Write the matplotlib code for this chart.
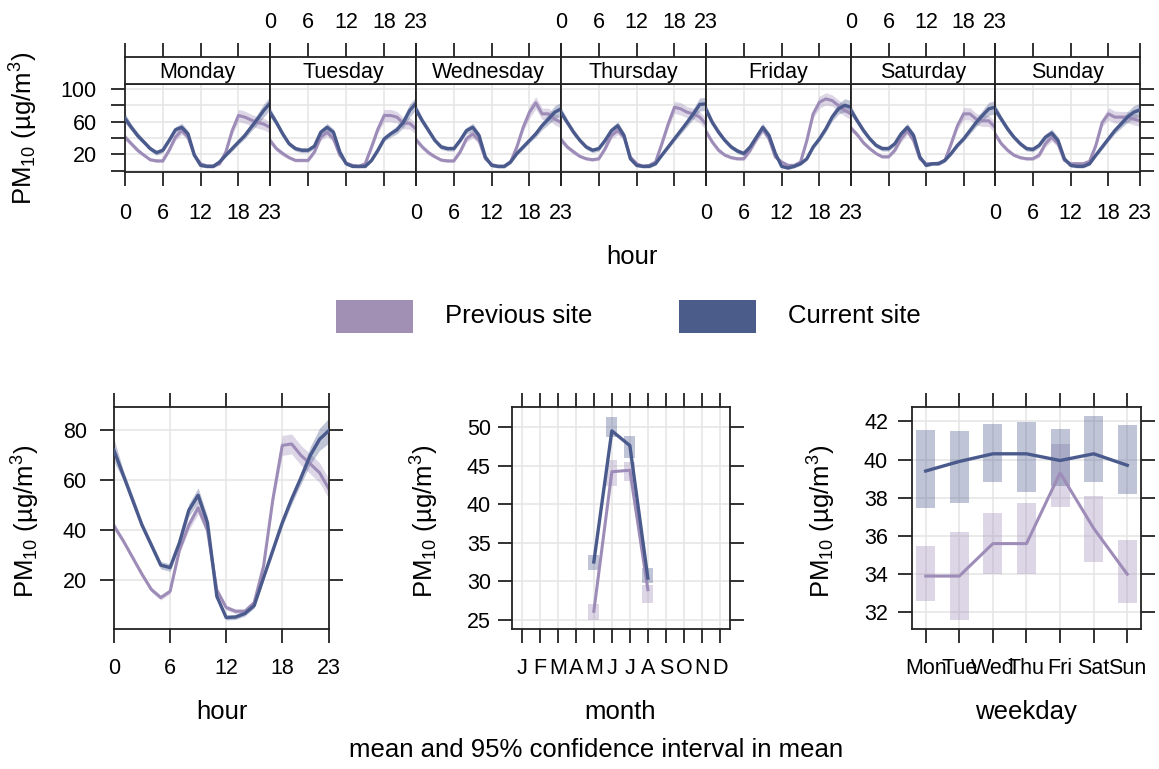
import matplotlib
matplotlib.use('Agg')
import matplotlib.pyplot as plt
import numpy as np

plt.rcParams['font.family'] = ['Liberation Sans', 'DejaVu Sans']
plt.rcParams['mathtext.fontset'] = 'custom'
plt.rcParams['mathtext.rm'] = 'Liberation Sans'
plt.rcParams['mathtext.it'] = 'Liberation Sans:italic'

# ---------------- data ----------------
days = ['Monday', 'Tuesday', 'Wednesday', 'Thursday', 'Friday', 'Saturday', 'Sunday']
hours = list(range(24))
hour_ticks = [0, 6, 12, 18, 23]

cur_dayhour = [
    [64, 53, 43, 35, 27, 22, 25, 37, 50, 53, 45, 19, 6.5, 5.3, 5.3, 10.6, 19, 27, 35, 43, 53, 63, 73.6, 82.5],
    [71.5, 59, 45, 33, 27, 25, 25, 30, 47, 53, 47, 23, 8.5, 5.3, 5.3, 5.3, 12.6, 25, 39, 45, 50, 59, 73.6, 82.5],
    [75, 61, 49, 37, 29, 27, 27, 37, 49, 53, 43, 16.7, 6.5, 5.3, 5.3, 10.6, 21, 29, 37, 45, 55, 63, 71.5, 75.6],
    [71.5, 59, 47, 37, 29, 25, 27, 37, 49, 55, 43, 14.6, 6.5, 5.3, 5.3, 8.5, 19, 29, 39, 49, 59, 69.5, 81, 81.7],
    [75, 59, 47, 37, 29, 24, 21, 29, 41, 53, 43, 21, 5.3, 3.3, 5.3, 8.5, 14.6, 29, 39, 51, 65.5, 75.6, 80, 77.6],
    [73.6, 61, 49, 39, 31, 27, 27, 33, 45, 53, 43, 16.7, 6.5, 8.5, 8.5, 12.6, 21, 31, 39, 49, 59, 67.5, 75.6, 77.6],
    [75.6, 63, 51, 41, 33, 27, 26, 31, 41, 46, 37, 14.6, 6.5, 5.3, 5.3, 8.5, 19, 29, 39, 49, 57, 65.5, 71.5, 74.4],
]
prev_dayhour = [
    [41, 33, 25, 19, 13.4, 12, 12, 25, 41, 49, 41, 19, 8.5, 5.7, 5.7, 8.5, 23, 49, 67.5, 65.5, 62, 59, 57, 53],
    [37, 27, 21, 16, 12.6, 12.6, 12.6, 23, 41, 47, 39, 19, 9.3, 6.5, 5.3, 8.5, 29, 51, 67.5, 67.5, 65.5, 58, 58, 51],
    [38, 29, 22, 17, 13, 12, 12, 23, 39, 45, 37, 14.6, 7.7, 5.3, 5.3, 10.6, 29, 53, 71.5, 83, 69.5, 69.5, 63, 59],
    [38, 29, 23, 17.5, 14.6, 13.4, 14.6, 27, 43, 49, 41, 16.7, 8.5, 5.3, 6.5, 10.6, 33, 57, 77.6, 75.6, 71.5, 69.5, 65.5, 57],
    [48, 35, 25, 19, 16, 14.6, 14.6, 25, 39, 51, 39, 16.7, 10.6, 6.5, 6.5, 10.6, 37, 69.5, 83.7, 87.8, 85.8, 79.7, 73.6, 69.5],
    [52, 44, 34, 27, 21, 17, 17, 25, 39, 49, 37, 14.6, 8.5, 8.5, 9.3, 12.6, 33, 55, 69.5, 69.5, 63, 61, 61, 53],
    [45, 33, 25, 19, 16, 14.6, 14.6, 19, 33, 41, 33, 12.6, 8.5, 8.5, 8.5, 11.4, 31, 59, 69.5, 65.5, 65.5, 65.5, 63, 61],
]
cur_dayhour_ci = [6, 4, 4, 3, 3, 3, 3, 3, 4, 5, 4, 2, 2, 2, 2, 2, 2, 3, 3, 4, 5, 6.5, 8, 8]
prev_dayhour_ci = [4, 3, 3, 2, 2, 2, 2, 3, 4, 5, 4, 2, 2, 2, 2, 2, 4, 5, 7.5, 7.5, 7, 7, 7, 7]

cur_hour = [72, 62, 52, 42, 34, 26, 25, 35, 48, 54, 43, 13.5, 5, 5.2, 6.6, 9.8, 21, 32, 43, 52.5, 61, 70, 76.5, 80]
prev_hour = [41.7, 35.7, 29, 22.3, 16.2, 13, 15.5, 32, 42, 49, 40, 16, 9, 7.5, 7.5, 11, 25.6, 52.5, 74, 74.6, 70, 66.6, 63, 56.5]
cur_hour_ci = [4.5, 2, 2, 1.5, 1.5, 1.5, 1.5, 1.5, 2.5, 3, 2.5, 1, 1, 1, 1, 1, 1, 1.5, 1.5, 2, 2.5, 3.5, 4.5, 5]
prev_hour_ci = [1.5, 1, 1, 1, 1, 1, 1, 1, 2, 2.5, 2, 1, 1, 1, 1, 1, 1.5, 2, 4, 4, 4, 4, 4, 4]

month_labels = ['J', 'F', 'M', 'A', 'M', 'J', 'J', 'A', 'S', 'O', 'N', 'D']
months_obs = [5, 6, 7, 8]
cur_month = [32.5, 49.5, 47.6, 30.4]
cur_month_lo = [31.5, 48.7, 46.0, 29.8]
cur_month_hi = [33.4, 51.3, 48.9, 31.7]
prev_month = [26.1, 44.2, 44.4, 28.9]
prev_month_lo = [25.0, 42.3, 43.0, 27.2]
prev_month_hi = [27.0, 45.7, 45.5, 29.5]

weekday_labels = ['Mon', 'Tue', 'Wed', 'Thu', 'Fri', 'Sat', 'Sun']
cur_wday = [39.4, 39.9, 40.3, 40.3, 39.95, 40.3, 39.7]
cur_wday_lo = [37.45, 37.7, 38.8, 38.3, 38.6, 38.8, 38.2]
cur_wday_hi = [41.57, 41.5, 41.85, 41.95, 41.6, 42.3, 41.8]
prev_wday = [33.9, 33.9, 35.6, 35.6, 39.3, 36.4, 34.0]
prev_wday_lo = [32.6, 31.6, 34.0, 34.0, 37.5, 34.65, 32.5]
prev_wday_hi = [35.5, 36.2, 37.2, 37.7, 40.8, 38.1, 35.8]

series_names = ['Previous site', 'Current site']
prev_col = '#9E8CB8'
cur_col = '#4A5A8C'
prev_leg = '#A28FB4'
cur_leg = '#4B5B8A'

# ---------------- layout ----------------
W, H = 1159, 769
fig = plt.figure(figsize=(W / 100, H / 100), dpi=100)


def ax_px(x0, y0, x1, y1):
    return fig.add_axes([x0 / W, 1 - y1 / H, (x1 - x0) / W, (y1 - y0) / H])


SPC = '#222222'
GRID = '#E6E6E6'
TL = 10  # tick length in points
FS_TICK = 15.5
FS_LAB = 18.5


def style_spines(ax):
    for s in ax.spines.values():
        s.set_color(SPC)
        s.set_linewidth(1.3)


ylab = r'PM$_{\mathrm{10}}$ (µg/m$^{\mathrm{3}}$)'

# ---- top panel: day x hour ----
bounds = [125, 270, 416, 561, 706, 851, 995, 1140]
ylim_top = (-1, 106)
for i, d in enumerate(days):
    ax = ax_px(bounds[i], 84, bounds[i + 1], 171.5)
    sax = ax_px(bounds[i], 57, bounds[i + 1], 84)
    c = np.array(cur_dayhour[i])
    p = np.array(prev_dayhour[i])
    ch = np.array(cur_dayhour_ci)
    ph = np.array(prev_dayhour_ci)
    for v in hour_ticks:
        ax.axvline(v, color=GRID, lw=1.2, zorder=0)
    for v in range(0, 101, 20):
        ax.axhline(v, color=GRID, lw=1.2, zorder=0)
    ax.fill_between(hours, p - ph, p + ph, color=prev_col, alpha=0.35, lw=0, zorder=1)
    ax.fill_between(hours, c - ch, c + ch, color=cur_col, alpha=0.35, lw=0, zorder=1)
    ax.plot(hours, p, color=prev_col, lw=2.2, zorder=2)
    ax.plot(hours, c, color=cur_col, lw=2.4, zorder=3)
    ax.set_xlim(0, 23)
    ax.set_ylim(*ylim_top)
    ax.set_xticks(hour_ticks)
    ax.tick_params(axis='x', direction='out', length=TL, width=1.3, color=SPC,
                   labelsize=FS_TICK, pad=13, labelbottom=(i % 2 == 0))
    ax.set_yticks(range(0, 101, 20))
    ax.set_yticklabels(['' if v in (0, 40, 80) else str(v) for v in range(0, 101, 20)])
    ax.tick_params(axis='y', direction='out', length=TL, width=1.3, color=SPC,
                   labelsize=FS_TICK, pad=10.5,
                   left=(i == 0), labelleft=(i == 0), right=(i == 6), labelright=False)
    style_spines(ax)
    # strip
    sax.set_xlim(0, 23)
    sax.set_ylim(0, 1)
    sax.set_yticks([])
    sax.set_xticks(hour_ticks)
    sax.tick_params(axis='x', direction='out', length=TL, width=1.3, color=SPC,
                    labelsize=FS_TICK, pad=7.5, bottom=False, labelbottom=False,
                    top=True, labeltop=(i % 2 == 1))
    sax.text(11.5, 0.42, d, ha='center', va='center', fontsize=FS_TICK)
    style_spines(sax)

fig.text(632 / W, 1 - 257 / H, 'hour', ha='center', va='center', fontsize=FS_LAB)
fig.text(24 / W, 1 - 128 / H, ylab, ha='center', va='center', rotation=90, fontsize=FS_LAB)

# ---- legend ----
leg_ax = fig.add_axes([0, 0, 1, 1], facecolor='none')
leg_ax.set_xlim(0, W)
leg_ax.set_ylim(H, 0)
leg_ax.axis('off')
leg_ax.bar([374.5, 717.5], [33, 33], width=77, bottom=[300, 300],
           color=[prev_leg, cur_leg], lw=0)
leg_ax.text(445, 316, series_names[0], ha='left', va='center', fontsize=FS_LAB)
leg_ax.text(788, 316, series_names[1], ha='left', va='center', fontsize=FS_LAB)

# ---- bottom-left: hour ----
ax = ax_px(114, 407, 329, 629)
for v in hour_ticks:
    ax.axvline(v, color=GRID, lw=1.2, zorder=0)
for v in [20, 40, 60, 80]:
    ax.axhline(v, color=GRID, lw=1.2, zorder=0)
c = np.array(cur_hour); ch = np.array(cur_hour_ci)
p = np.array(prev_hour); ph = np.array(prev_hour_ci)
ax.fill_between(hours, p - ph, p + ph, color=prev_col, alpha=0.35, lw=0, zorder=1)
ax.fill_between(hours, c - ch, c + ch, color=cur_col, alpha=0.35, lw=0, zorder=1)
ax.plot(hours, p, color=prev_col, lw=2.2, zorder=2)
ax.plot(hours, c, color=cur_col, lw=2.4, zorder=3)
ax.set_xlim(0, 23)
ax.set_ylim(0.4, 89.4)
ax.set_xticks(hour_ticks)
ax.set_yticks([20, 40, 60, 80])

# ---- bottom-middle: month ----
ax2 = ax_px(511.7, 407, 730, 629)
for v in range(1, 13):
    ax2.axvline(v, color=GRID, lw=1.2, zorder=0)
for v in [25, 30, 35, 40, 45, 50]:
    ax2.axhline(v, color=GRID, lw=1.2, zorder=0)
ax2.bar(months_obs, np.array(prev_month_hi) - np.array(prev_month_lo), bottom=prev_month_lo,
        width=0.6, color=prev_col, alpha=0.35, lw=0, zorder=1)
ax2.bar(months_obs, np.array(cur_month_hi) - np.array(cur_month_lo), bottom=cur_month_lo,
        width=0.6, color=cur_col, alpha=0.35, lw=0, zorder=1)
ax2.plot(months_obs, prev_month, color=prev_col, lw=2.2, zorder=2)
ax2.plot(months_obs, cur_month, color=cur_col, lw=2.4, zorder=3)
ax2.set_xlim(0.44, 12.56)
ax2.set_ylim(23.8, 52.6)
ax2.set_xticks(range(1, 13))
ax2.set_xticklabels(month_labels)
ax2.set_yticks([25, 30, 35, 40, 45, 50])

# ---- bottom-right: weekday ----
ax3 = ax_px(911.7, 407, 1140.7, 629)
wd = list(range(1, 8))
for v in wd:
    ax3.axvline(v, color=GRID, lw=1.2, zorder=0)
for v in [32, 34, 36, 38, 40, 42]:
    ax3.axhline(v, color=GRID, lw=1.2, zorder=0)
ax3.bar(wd, np.array(prev_wday_hi) - np.array(prev_wday_lo), bottom=prev_wday_lo,
        width=0.57, color=prev_col, alpha=0.35, lw=0, zorder=1)
ax3.bar(wd, np.array(cur_wday_hi) - np.array(cur_wday_lo), bottom=cur_wday_lo,
        width=0.57, color=cur_col, alpha=0.35, lw=0, zorder=1)
ax3.plot(wd, prev_wday, color=prev_col, lw=2.2, zorder=2)
ax3.plot(wd, cur_wday, color=cur_col, lw=2.4, zorder=3)
ax3.set_xlim(0.583, 7.4)
ax3.set_ylim(31.13, 42.75)
ax3.set_xticks(wd)
ax3.set_xticklabels(weekday_labels)
ax3.set_yticks([32, 34, 36, 38, 40, 42])

for a, ypad in ((ax, 9.5), (ax2, 5), (ax3, 7)):
    a.tick_params(axis='both', direction='out', length=TL, width=1.3, color=SPC,
                  labelsize=FS_TICK, top=True, right=True, labeltop=False, labelright=False)
    a.tick_params(axis='x', pad=11)
    a.tick_params(axis='y', pad=ypad)
    style_spines(a)

for x, s in [(222, 'hour'), (620, 'month'), (1026, 'weekday')]:
    fig.text(x / W, 1 - 712 / H, s, ha='center', va='center', fontsize=FS_LAB)
for x in [26, 425, 822]:
    fig.text(x / W, 1 - 521 / H, ylab, ha='center', va='center', rotation=90, fontsize=FS_LAB)

fig.text(596 / W, 1 - 750 / H, 'mean and 95% confidence interval in mean',
         ha='center', va='center', fontsize=FS_LAB)

fig.savefig('out.png', dpi=100)
